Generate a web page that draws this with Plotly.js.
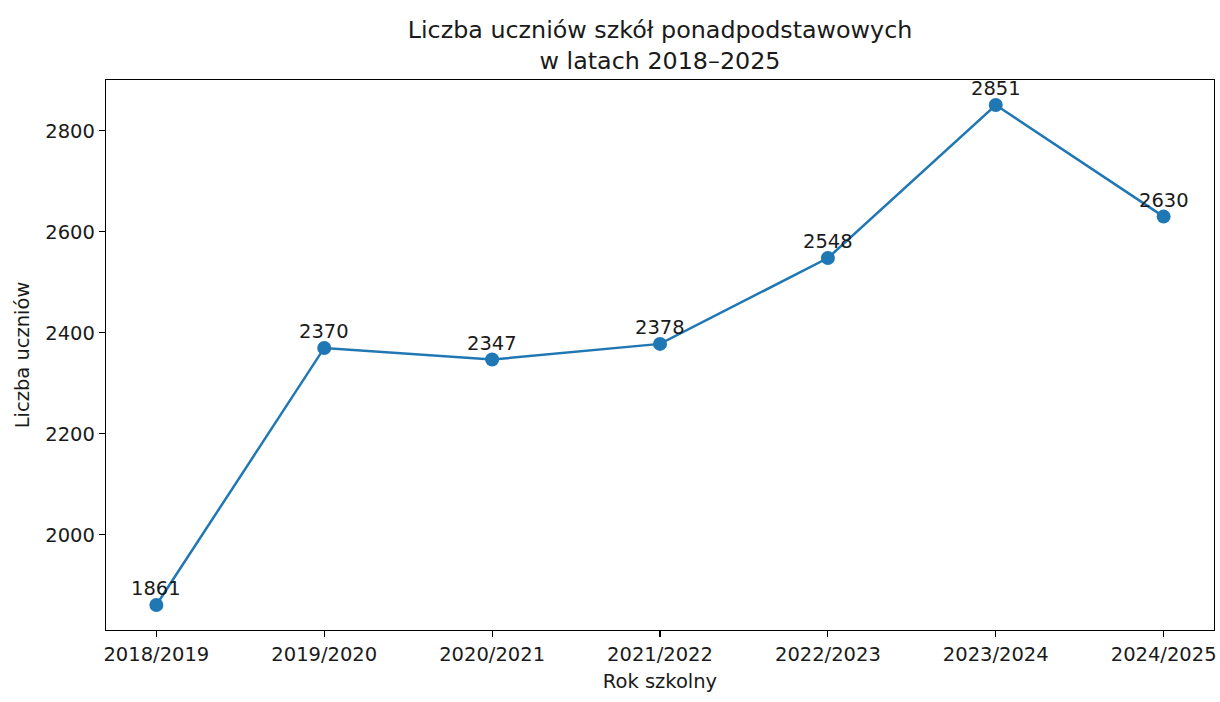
<!DOCTYPE html>
<html>
<head>
<meta charset="utf-8">
<script src="https://cdn.plot.ly/plotly-3.0.1.min.js"></script>
<style>html,body{margin:0;padding:0;background:#fff;}#chart{width:1220px;height:702px;}</style>
</head>
<body>
<div id="chart"></div>
<script>
const years = ["2018/2019","2019/2020","2020/2021","2021/2022","2022/2023","2023/2024","2024/2025"];
const students = [1861, 2370, 2347, 2378, 2548, 2851, 2630];
const yTicks = [2000, 2200, 2400, 2600, 2800];

const xIdx = years.map((_, i) => i);
const font = {family: "DejaVu Sans", size: 19.5, color: "#1a1a1a"};

const trace = {
  x: xIdx, y: students, type: "scatter", mode: "lines+markers",
  line: {color: "#1f77b4", width: 2.5},
  marker: {color: "#1f77b4", size: 14},
  cliponaxis: false, hoverinfo: "skip"
};

const annotations = students.map((v, i) => ({
  x: i, y: v, xref: "x", yref: "y", text: String(v), showarrow: false,
  yanchor: "bottom", xanchor: "center", yshift: 3,
  font: font
}));

const layout = {
  width: 1220, height: 702,
  margin: {l: 106, r: 6, t: 80, b: 72, pad: 0},
  paper_bgcolor: "#fff", plot_bgcolor: "#fff",
  font: font,
  showlegend: false,
  title: {text: "Liczba uczniów szkół ponadpodstawowych<br>w latach 2018–2025",
          font: {family: "DejaVu Sans", size: 23.8, color: "#1a1a1a"},
          x: 0.541, xanchor: "center", y: 0.946, yanchor: "middle"},
  xaxis: {
    range: [-0.3, 6.3], tickmode: "array", tickvals: xIdx, ticktext: years,
    showgrid: false, zeroline: false, showline: true, linecolor: "#000", linewidth: 1.2,
    mirror: true, ticks: "outside", ticklen: 6, tickcolor: "#000", tickwidth: 1.2,
    tickfont: font,
    title: {text: "Rok szkolny", font: font, standoff: 9}
  },
  yaxis: {
    range: [1811.5, 2900.5], tickmode: "array", tickvals: yTicks,
    showgrid: false, zeroline: false, showline: true, linecolor: "#000", linewidth: 1.2,
    mirror: true, ticks: "outside", ticklen: 6, tickcolor: "#000", tickwidth: 1.2,
    tickfont: font,
    title: {text: "Liczba uczniów", font: font, standoff: 10}
  },
  annotations: annotations
};

Plotly.newPlot("chart", [trace], layout, {staticPlot: true, displayModeBar: false});
</script>
</body>
</html>
